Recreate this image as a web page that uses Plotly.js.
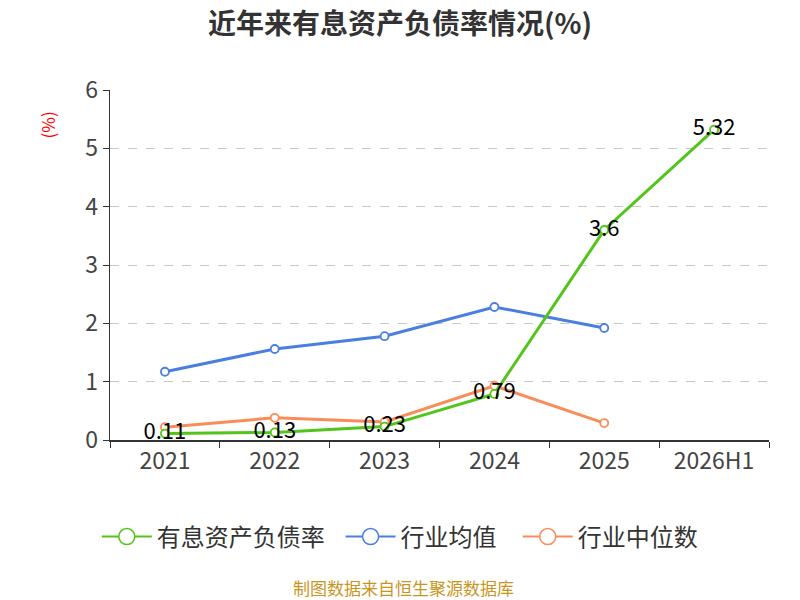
<!DOCTYPE html>
<html>
<head>
<meta charset="utf-8">
<script src="https://cdn.plot.ly/plotly-3.0.1.min.js"></script>
<style>
  html, body { margin: 0; padding: 0; background: #ffffff; }
  #chart { width: 800px; height: 600px; }
</style>
</head>
<body>
<div id="chart"></div>
<script>
const FONT_FAMILY = "Noto Sans CJK SC, Noto Sans, sans-serif";
const years = ["2021", "2022", "2023", "2024", "2025", "2026H1"];
const debtRatio = [0.11, 0.13, 0.23, 0.79, 3.6, 5.32];
const industryMean = [1.17, 1.56, 1.78, 2.28, 1.92];
const industryMedian = [0.22, 0.38, 0.31, 0.93, 0.29];
const debtLabels = ["0.11", "0.13", "0.23", "0.79", "3.6", "5.32"];
const legendNames = ["有息资产负债率", "行业均值", "行业中位数"];

const COLORS = {
  debt: "#52c41a",
  mean: "#4a7fe0",
  median: "#fa8c5a",
  text: "#333333",
  grid: "#c8c8c8",
};

function seriesTrace(name, y, color, extra) {
  return Object.assign({
    x: years.slice(0, y.length),
    y,
    name,
    type: "scatter",
    mode: "lines+markers",
    line: { color, width: 3 },
    marker: { color: "#ffffff", size: 8, line: { color, width: 1.8 } },
    hoverinfo: "skip",
    showlegend: false,
  }, extra || {});
}

const traces = [
  seriesTrace(legendNames[2], industryMedian, COLORS.median),
  seriesTrace(legendNames[1], industryMean, COLORS.mean),
  seriesTrace(legendNames[0], debtRatio, COLORS.debt, {
    mode: "lines+markers+text",
    text: debtLabels,
    textposition: "middle center",
    textfont: { family: FONT_FAMILY, size: 22, color: "#000000" },
  }),
];

// legend entries in the reference order, drawn with larger circles;
// trailing spaces widen the gaps between entries like the reference
const legendPad = ["\u00a0\u00a0", "\u00a0\u00a0\u00a0", ""];
[COLORS.debt, COLORS.mean, COLORS.median].forEach((color, i) => {
  traces.push({
    x: [null], y: [null], name: legendNames[i] + legendPad[i],
    type: "scatter", mode: "lines+markers",
    line: { color, width: 2 },
    marker: { color: "#ffffff", size: 20, line: { color, width: 1.5 } },
    hoverinfo: "skip",
  });
});

const layout = {
  width: 800,
  height: 600,
  margin: { l: 110, r: 31, t: 90, b: 160 },
  paper_bgcolor: "#ffffff",
  plot_bgcolor: "#ffffff",
  font: { family: FONT_FAMILY, color: COLORS.text, size: 18 },
  title: {
    text: "<b>近年来有息资产负债率情况(%)</b>",
    x: 0.5, xanchor: "center", y: 0.96, yanchor: "middle",
    font: { family: FONT_FAMILY, size: 28, color: COLORS.text },
  },
  showlegend: true,
  legend: {
    orientation: "h",
    x: -0.02, xanchor: "left",
    y: -0.277, yanchor: "middle",
    font: { family: FONT_FAMILY, size: 24, color: COLORS.text },
    itemwidth: 50,
    traceorder: "normal",
  },
  xaxis: {
    type: "category",
    range: [-0.5, 5.5],
    showline: true, linecolor: "#333333", linewidth: 1.5,
    ticks: "outside", tickson: "boundaries", ticklen: 6, tickcolor: "#333333",
    showgrid: false, zeroline: false,
    tickfont: { size: 23, color: "#444444" },
  },
  yaxis: {
    range: [0, 6],
    dtick: 1,
    showline: true, linecolor: "#333333", linewidth: 1.5,
    ticks: "outside", ticklen: 6, tickcolor: "#333333",
    gridcolor: COLORS.grid, griddash: "dash", gridwidth: 1,
    zeroline: false,
    tickfont: { size: 23, color: "#444444" },
  },
  annotations: [
    {
      text: "(%)", xref: "paper", yref: "paper",
      x: -0.095, y: 0.9, xanchor: "center", yanchor: "middle",
      textangle: -90, showarrow: false,
      font: { family: FONT_FAMILY, size: 17, color: "#ff0000" },
    },
    {
      text: "制图数据来自恒生聚源数据库", xref: "paper", yref: "paper",
      x: 0.445, y: -0.422, xanchor: "center", yanchor: "middle",
      showarrow: false,
      font: { family: FONT_FAMILY, size: 17, color: "#c8961e" },
    },
  ],
};

Plotly.newPlot("chart", traces, layout, { displayModeBar: false, staticPlot: true });
</script>
</body>
</html>
